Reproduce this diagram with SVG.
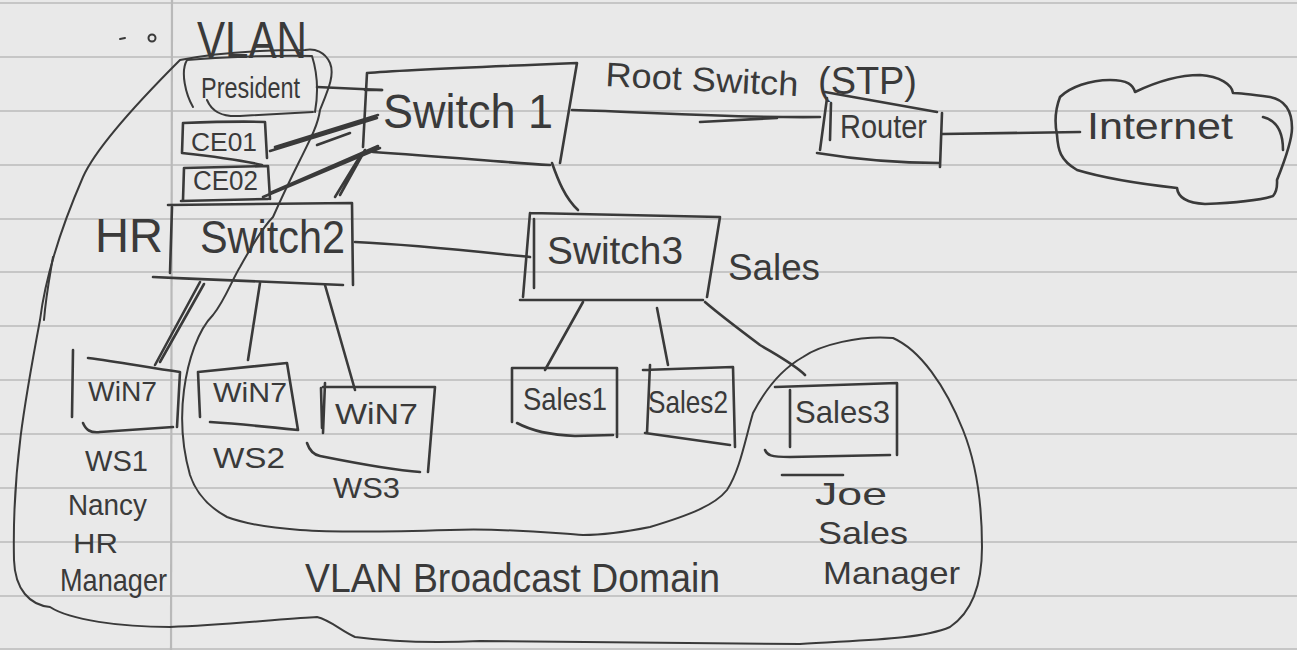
<svg xmlns="http://www.w3.org/2000/svg" width="1297" height="650" viewBox="0 0 1297 650">
<defs>
<style>
.ink{fill:none;stroke:#3a3a3a;stroke-width:2.6;stroke-linecap:round;stroke-linejoin:round}
.thin{fill:none;stroke:#3a3a3a;stroke-width:2;stroke-linecap:round;stroke-linejoin:round}
.rule{stroke:#c6c6c6;stroke-width:2}
.t{font-family:"Liberation Sans","DejaVu Sans",sans-serif;fill:#3a3a3a}
</style>
</defs>
<rect x="0" y="0" width="1297" height="650" fill="#e9e9e9"/>
<g id="paper">
<line class="rule" x1="0" y1="3" x2="1297" y2="3"/>
<line class="rule" x1="0" y1="57" x2="1297" y2="57"/>
<line class="rule" x1="0" y1="111" x2="1297" y2="111"/>
<line class="rule" x1="0" y1="165" x2="1297" y2="165"/>
<line class="rule" x1="0" y1="219" x2="1297" y2="219"/>
<line class="rule" x1="0" y1="272" x2="1297" y2="272"/>
<line class="rule" x1="0" y1="326" x2="1297" y2="326"/>
<line class="rule" x1="0" y1="380" x2="1297" y2="380"/>
<line class="rule" x1="0" y1="434" x2="1297" y2="434"/>
<line class="rule" x1="0" y1="488" x2="1297" y2="488"/>
<line class="rule" x1="0" y1="542" x2="1297" y2="542"/>
<line class="rule" x1="0" y1="596" x2="1297" y2="596"/>
<line class="rule" x1="0" y1="649" x2="1297" y2="649"/>
<line x1="172" y1="0" x2="171" y2="650" stroke="#b9b9b9" stroke-width="2.2"/>
</g>

<g id="domains">
<path class="thin" d="M180,60 C130,110 95,150 83,177 C60,230 45,280 40,320 C25,400 12,470 14,560 C15,590 30,605 50,607 C70,620 120,627 170,627 C230,625 290,618 317,617 C330,620 340,630 355,637 C400,643 440,643 480,641 L800,644 C860,640 920,640 950,627 C975,610 982,580 982,547 C982,500 975,460 963,430 C945,385 920,350 893,338 C860,335 820,345 803,357 C780,370 765,390 753,413 C745,440 740,470 727,490 C715,505 690,515 650,527 C620,533 600,535 583,535 C550,533 510,528 450,530 C380,532 330,532 300,530 C260,527 240,522 227,517 C205,505 195,490 190,475 C183,450 180,420 184,390 C188,360 198,330 213,315 C225,300 232,280 240,267 C255,240 265,225 273,217 C285,190 295,170 300,160 C310,140 318,125 320,110 C328,90 335,75 330,63 C325,52 315,48 305,50 C270,50 220,52 180,60"/>
<path class="thin" d="M53,257 C50,275 46,295 44,320"/>
</g>

<g id="connectors">
<path class="ink" d="M317,87 L382,90"/>
<path class="ink" d="M270,151 L377,118 M275,147 L378,115 M317,145 L350,133"/>
<path class="ink" d="M263,197 L380,148 M270,193 L378,146"/>
<path class="ink" d="M335,197 L362,153 M340,195 L365,150"/>
<path class="ink" d="M572,110 C650,112 720,118 820,117 M700,122 L777,118"/>
<path class="ink" d="M942,134 L1080,132"/>
<path class="ink" d="M552,163 C558,180 565,198 578,210"/>
<path class="ink" d="M355,242 C420,245 480,252 530,257"/>
<path class="ink" d="M200,282 L155,365 M204,284 L160,362"/>
<path class="ink" d="M260,283 L248,360"/>
<path class="ink" d="M325,285 L355,390"/>
<path class="ink" d="M583,302 L545,370"/>
<path class="ink" d="M657,308 L668,365"/>
<path class="ink" d="M705,302 C720,315 740,330 760,345 C780,357 795,365 805,375"/>
</g>

<g id="vlan-label">
<circle cx="152" cy="38" r="3.5" class="thin"/>
<path class="thin" d="M120,39 L125,38"/>
<text class="t" x="197" y="58" font-size="52" textLength="110" lengthAdjust="spacingAndGlyphs">VLAN</text>
</g>

<g id="president">
<path class="thin" d="M193,107 C186,95 180,72 187,60 C220,57 280,55 312,56 C318,75 318,95 315,112 M207,100 C212,112 222,117 240,116 L313,112"/>
<text class="t" x="201" y="98" font-size="30" textLength="99" lengthAdjust="spacingAndGlyphs">President</text>
</g>

<g id="ce01">
<path class="ink" d="M183,123 C210,122 240,121 265,122 L267,158 M182,153 C210,156 240,160 262,165 M183,123 L182,153"/>
<text class="t" x="191" y="151" font-size="26" textLength="66" lengthAdjust="spacingAndGlyphs">CE01</text>
</g>

<g id="ce02">
<path class="ink" d="M184,168 L268,166 L270,199 M181,201 L268,199 M184,168 L183,200"/>
<text class="t" x="193" y="190" font-size="27" textLength="65" lengthAdjust="spacingAndGlyphs">CE02</text>
</g>

<g id="switch1">
<path class="ink" d="M367,73 C400,70 450,68 577,63 L560,163 M373,152 C450,157 500,162 550,165 M367,73 L363,147 M365,90 L382,90"/>
<text class="t" x="383" y="128" font-size="48" textLength="170" lengthAdjust="spacingAndGlyphs">Switch 1</text>
</g>

<g id="switch2">
<path class="ink" d="M168,205 L352,203 L353,285 M153,277 C220,280 290,283 343,285 M172,207 L170,273"/>
<text class="t" x="200" y="253" font-size="46" textLength="145" lengthAdjust="spacingAndGlyphs">Switch2</text>
</g>

<g id="hr-label">
<text class="t" x="95" y="252" font-size="48" textLength="68" lengthAdjust="spacingAndGlyphs">HR</text>
</g>

<g id="root-label">
<text class="t" x="605" y="86" font-size="34" textLength="193" lengthAdjust="spacingAndGlyphs" transform="rotate(3 605 86)">Root Switch</text>
<text class="t" x="818" y="94" font-size="38" textLength="99" lengthAdjust="spacingAndGlyphs">(STP)</text>
</g>

<g id="router">
<path class="ink" d="M825,92 L937,112 M827,98 L820,150 M831,103 L830,140 M817,153 C860,160 900,163 940,163 M942,113 L940,167"/>
<text class="t" x="840" y="138" font-size="34" textLength="87" lengthAdjust="spacingAndGlyphs">Router</text>
</g>

<g id="internet">
<path class="ink" d="M1060,97 C1055,110 1055,125 1057,135 C1058,150 1060,160 1077,170 C1110,180 1150,185 1177,188 C1178,197 1185,203 1205,204 C1230,203 1260,200 1273,196 C1278,190 1277,183 1277,180 C1285,160 1292,140 1292,128 C1292,110 1285,100 1270,97 C1255,95 1240,93 1233,93 C1232,85 1220,76 1200,75 C1180,75 1160,80 1135,92 C1133,85 1128,80 1110,80 C1090,80 1070,87 1060,97 Z M1263,117 C1275,120 1283,130 1283,150"/>
<text class="t" x="1087" y="139" font-size="36" textLength="146" lengthAdjust="spacingAndGlyphs">Internet</text>
</g>

<g id="switch3">
<path class="ink" d="M530,213 L720,217 L707,297 M520,300 L703,300 M530,213 L523,297 M534,219 L534,288"/>
<text class="t" x="547" y="264" font-size="38" textLength="136" lengthAdjust="spacingAndGlyphs">Switch3</text>
</g>

<g id="sales-label">
<text class="t" x="728" y="280" font-size="37" textLength="92" lengthAdjust="spacingAndGlyphs">Sales</text>
</g>

<g id="ws1">
<path class="ink" d="M88,358 C120,362 150,368 180,372 L177,427 M83,423 C86,430 90,433 100,432 L173,427 M73,350 L72,417"/>
<text class="t" x="88" y="401" font-size="28" textLength="69" lengthAdjust="spacingAndGlyphs">WiN7</text>
<text class="t" x="85" y="471" font-size="30" textLength="63" lengthAdjust="spacingAndGlyphs">WS1</text>
<text class="t" x="68" y="515" font-size="30" textLength="79" lengthAdjust="spacingAndGlyphs">Nancy</text>
<text class="t" x="73" y="553" font-size="28" textLength="45" lengthAdjust="spacingAndGlyphs">HR</text>
<text class="t" x="60" y="591" font-size="32" textLength="107" lengthAdjust="spacingAndGlyphs">Manager</text>
</g>

<g id="ws2">
<path class="ink" d="M198,372 L287,363 L298,430 M210,422 C240,424 270,427 298,430 M198,372 L200,417"/>
<text class="t" x="213" y="402" font-size="28" textLength="74" lengthAdjust="spacingAndGlyphs">WiN7</text>
<text class="t" x="213" y="468" font-size="30" textLength="72" lengthAdjust="spacingAndGlyphs">WS2</text>
</g>

<g id="ws3">
<path class="ink" d="M323,387 L435,387 L428,472 M307,443 C310,452 315,455 320,456 C350,462 390,470 420,472 M325,383 L323,433 M321,388 L322,428"/>
<text class="t" x="335" y="424" font-size="30" textLength="83" lengthAdjust="spacingAndGlyphs">WiN7</text>
<text class="t" x="333" y="498" font-size="30" textLength="67" lengthAdjust="spacingAndGlyphs">WS3</text>
</g>

<g id="sales1">
<path class="ink" d="M512,368 L617,368 L617,437 M517,423 C530,430 550,435 575,436 L613,435 M512,368 L512,422"/>
<text class="t" x="523" y="410" font-size="32" textLength="84" lengthAdjust="spacingAndGlyphs">Sales1</text>
</g>

<g id="sales2">
<path class="ink" d="M643,370 L733,367 L735,447 M645,433 L730,445 M650,365 L647,433"/>
<text class="t" x="648" y="413" font-size="32" textLength="80" lengthAdjust="spacingAndGlyphs">Sales2</text>
</g>

<g id="sales3">
<path class="ink" d="M775,387 L897,383 L897,455 M765,450 C767,455 770,457 790,457 L890,455 M790,390 L790,447"/>
<text class="t" x="795" y="423" font-size="32" textLength="95" lengthAdjust="spacingAndGlyphs">Sales3</text>
<path class="ink" d="M782,475 L843,475"/>
<text class="t" x="815" y="505" font-size="32" textLength="72" lengthAdjust="spacingAndGlyphs">Joe</text>
<text class="t" x="818" y="544" font-size="32" textLength="90" lengthAdjust="spacingAndGlyphs">Sales</text>
<text class="t" x="823" y="584" font-size="32" textLength="137" lengthAdjust="spacingAndGlyphs">Manager</text>
</g>

<g id="domain-label">
<text class="t" x="305" y="592" font-size="40" textLength="415" lengthAdjust="spacingAndGlyphs">VLAN Broadcast Domain</text>
</g>
</svg>
